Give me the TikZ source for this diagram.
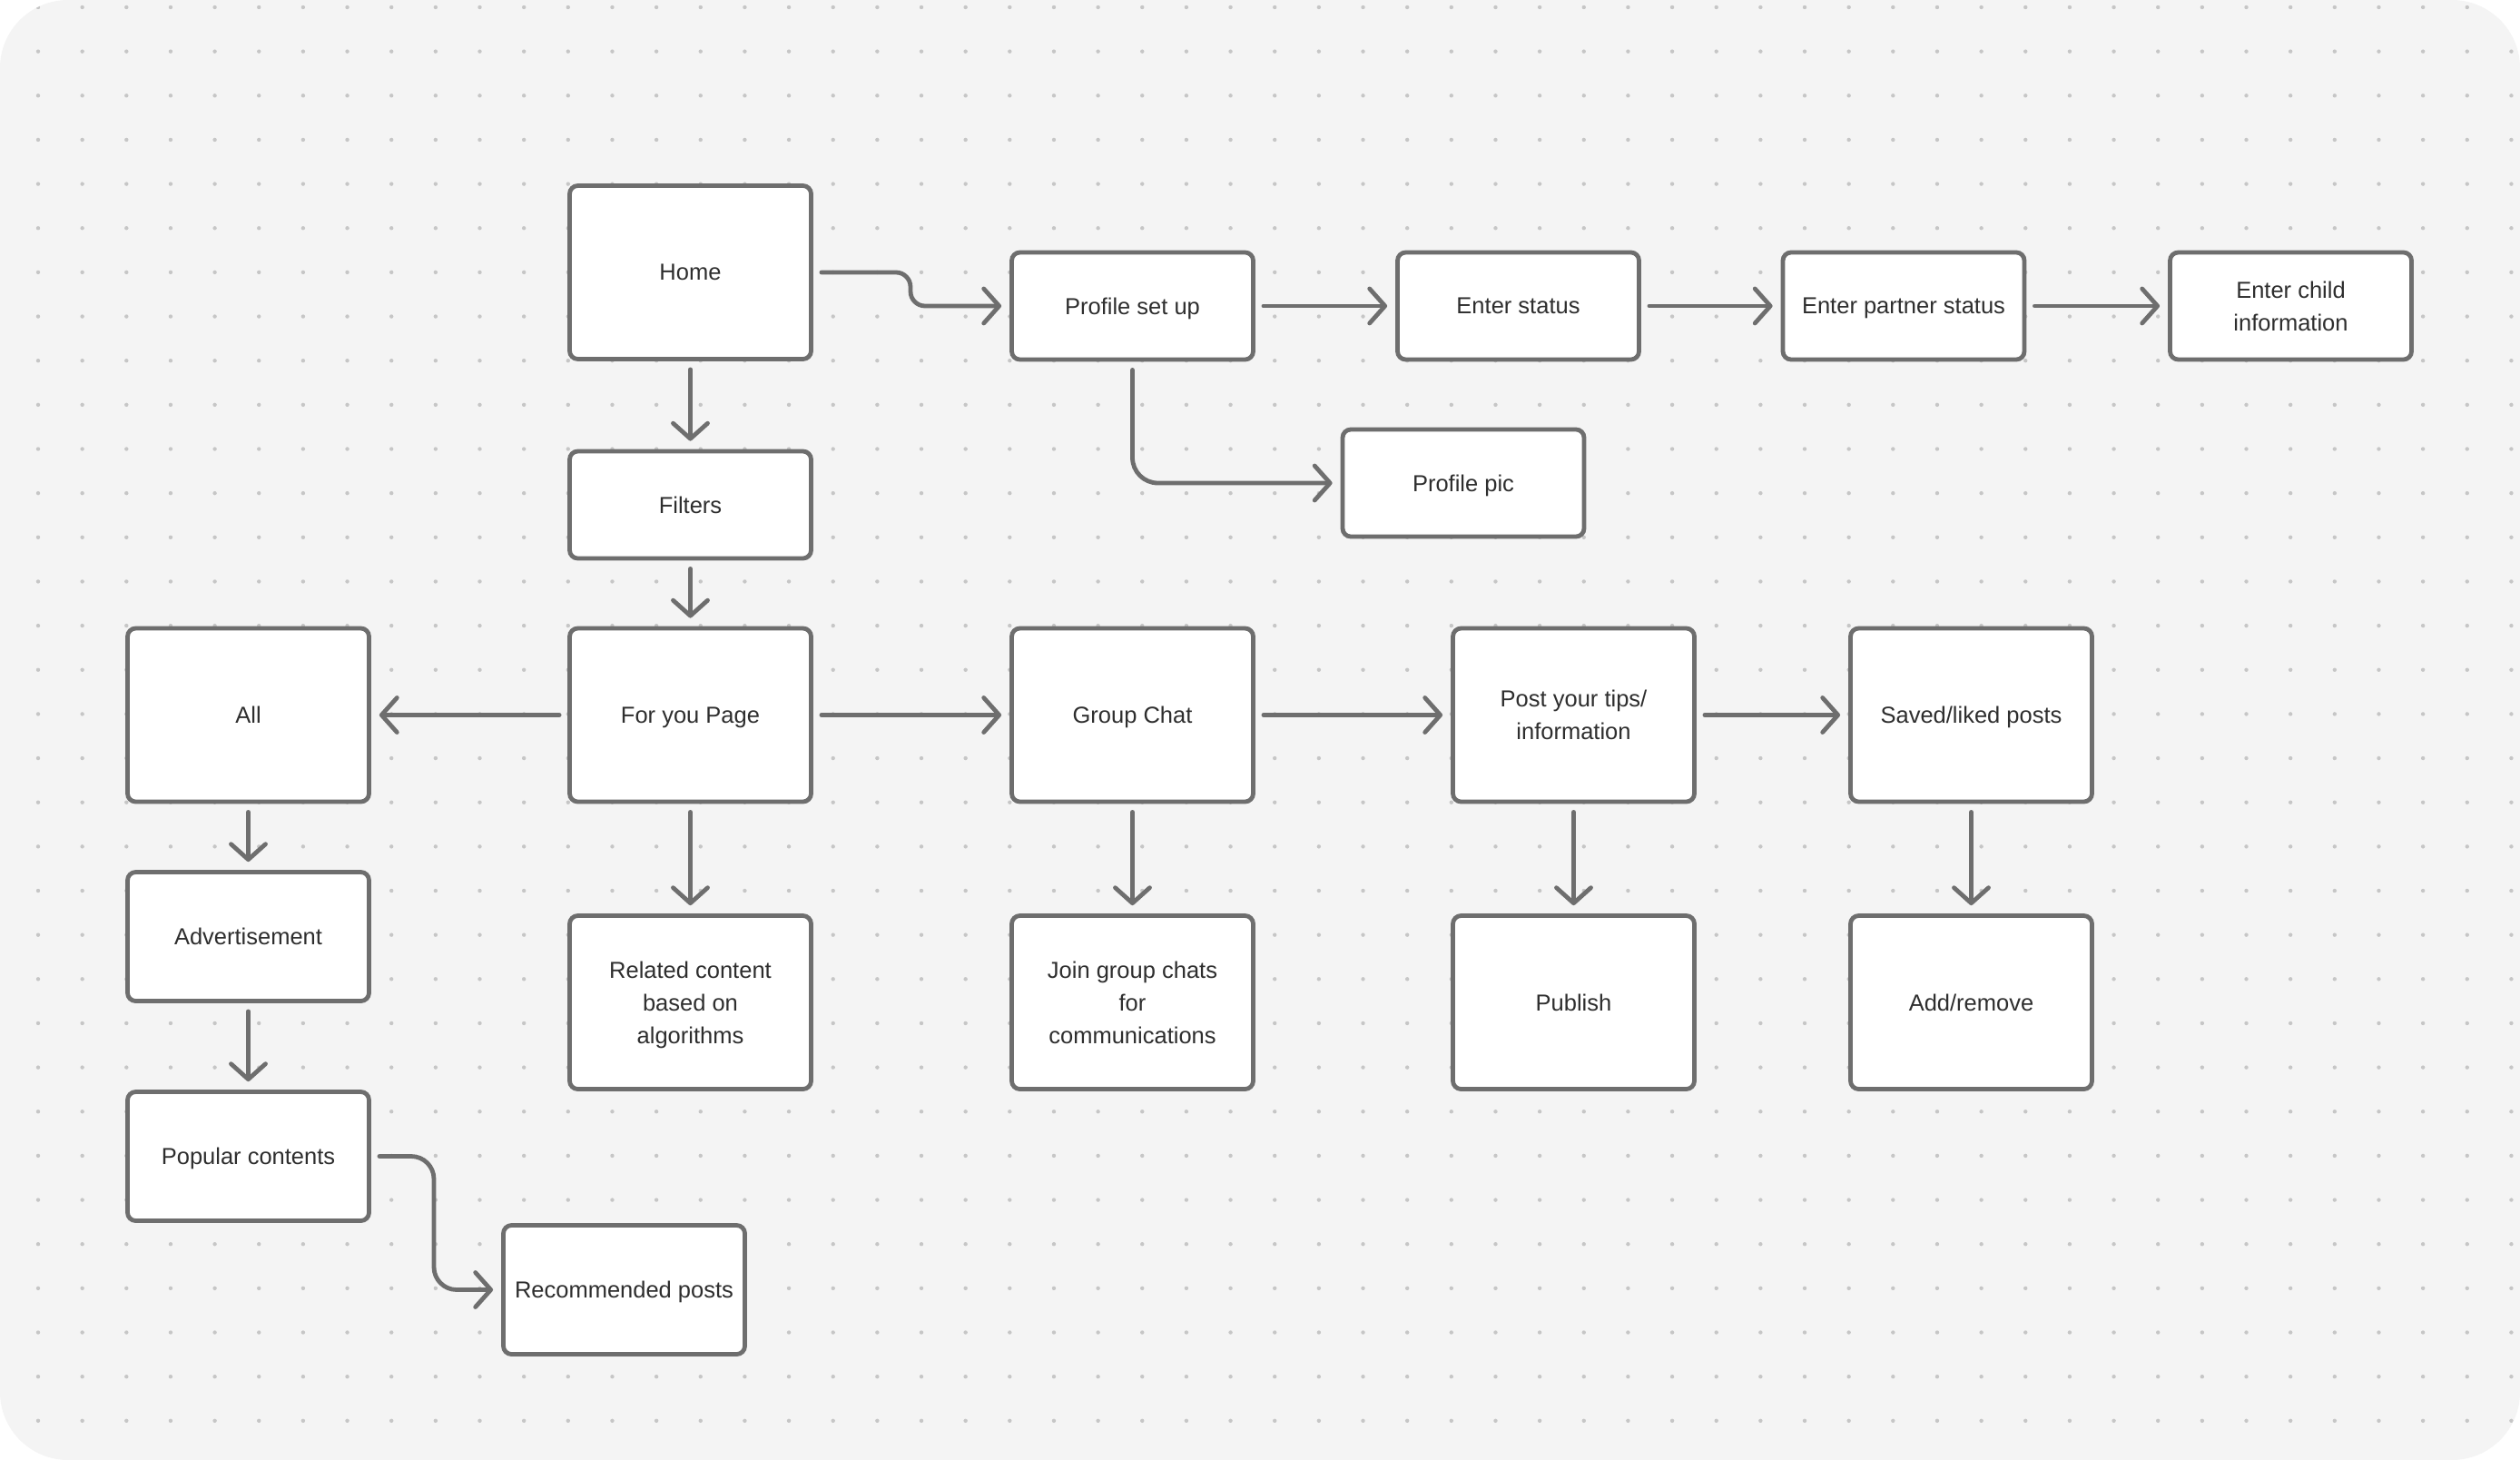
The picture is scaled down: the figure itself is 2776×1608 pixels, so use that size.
\documentclass[tikz,border=0pt]{standalone}
\usepackage{fontspec}
\setmainfont{Liberation Sans}
\usetikzlibrary{arrows.meta}
\definecolor{bg}{HTML}{F4F4F4}
\definecolor{dotc}{HTML}{C6C6C6}
\definecolor{edge}{HTML}{6E6E6E}
\definecolor{txt}{HTML}{2E2E2E}
\begin{document}
\begin{tikzpicture}[x=1pt,y=-1pt,
  box/.style={draw=edge, line width=4.8pt, fill=white, rounded corners=9pt, minimum width=266pt, text=txt, font=\fontsize{25.5}{36}\selectfont, align=center, inner sep=0pt, text depth=0pt},
  tall/.style={box, minimum height=191pt},
  short/.style={box, minimum height=118pt},
  mid/.style={box, minimum height=142pt},
  conn/.style={draw=edge, line width=4.8pt, line cap=round, -{Straight Barb[length=17pt,width=38pt,round]}, shorten >=9pt, shorten <=9pt}]
\useasboundingbox (0,0) rectangle (2776,1608);
\fill[white] (0,0) rectangle (2776,1608);
\fill[bg, rounded corners=75pt] (0,0) rectangle (2776,1608);
\begin{scope}
\clip[rounded corners=75pt] (0,0) rectangle (2776,1608);
\foreach \i in {0,...,56} \foreach \j in {0,...,32} \fill[dotc] (42+48.65*\i, 8+48.65*\j) circle (2.2pt);
\end{scope}

\node[tall]  (home)    at (760.5,300)   {Home};
\node[short] (profile) at (1247.5,337)  {Profile set up};
\node[short] (status)  at (1672.5,337)  {Enter status};
\node[short] (partner) at (2097,337)    {Enter partner status};
\node[short] (child)   at (2523.5,337)  {Enter child\\information};
\node[short] (pic)     at (1612,532)    {Profile pic};
\node[short] (filters) at (760.5,556)   {Filters};
\node[tall]  (all)     at (273.5,787.5) {All};
\node[tall]  (foryou)  at (760.5,787.5) {For you Page};
\node[tall]  (group)   at (1247.5,787.5) {Group Chat};
\node[tall]  (tips)    at (1733.5,787.5) {Post your tips/\\information};
\node[tall]  (saved)   at (2171.5,787.5) {Saved/liked posts};
\node[mid]   (ad)      at (273.5,1031.5) {Advertisement};
\node[tall]  (related) at (760.5,1104)  {Related content\\based on\\algorithms};
\node[tall]  (join)    at (1247.5,1104) {Join group chats\\for\\communications};
\node[tall]  (publish) at (1733.5,1104) {Publish};
\node[tall]  (addrem)  at (2171.5,1104) {Add/remove};
\node[mid]   (popular) at (273.5,1273.5) {Popular contents};
\node[mid]   (recom)   at (687.5,1420.5) {Recommended posts};

\coordinate (b1) at (1003,300);
\coordinate (b2) at (1003,337);
\draw[conn, rounded corners=16pt] (home.east) -- (b1) -- (b2) -- (profile.west);
\draw[conn] (profile) -- (status);
\draw[conn] (status) -- (partner);
\draw[conn] (partner) -- (child);
\coordinate (c1) at (1247.5,532);
\draw[conn, rounded corners=28pt] (profile.south) -- (c1) -- (pic.west);
\draw[conn] (home) -- (filters);
\draw[conn] (filters) -- (foryou);
\draw[conn] (foryou) -- (all);
\draw[conn] (foryou) -- (group);
\draw[conn] (group) -- (tips);
\draw[conn] (tips) -- (saved);
\draw[conn] (foryou) -- (related);
\draw[conn] (group) -- (join);
\draw[conn] (tips) -- (publish);
\draw[conn] (saved) -- (addrem);
\draw[conn] (all) -- (ad);
\draw[conn] (ad) -- (popular);
\coordinate (d1) at (478,1273.5);
\coordinate (d2) at (478,1420.5);
\draw[conn, rounded corners=25pt] (popular.east) -- (d1) -- (d2) -- (recom.west);
\end{tikzpicture}
\end{document}
